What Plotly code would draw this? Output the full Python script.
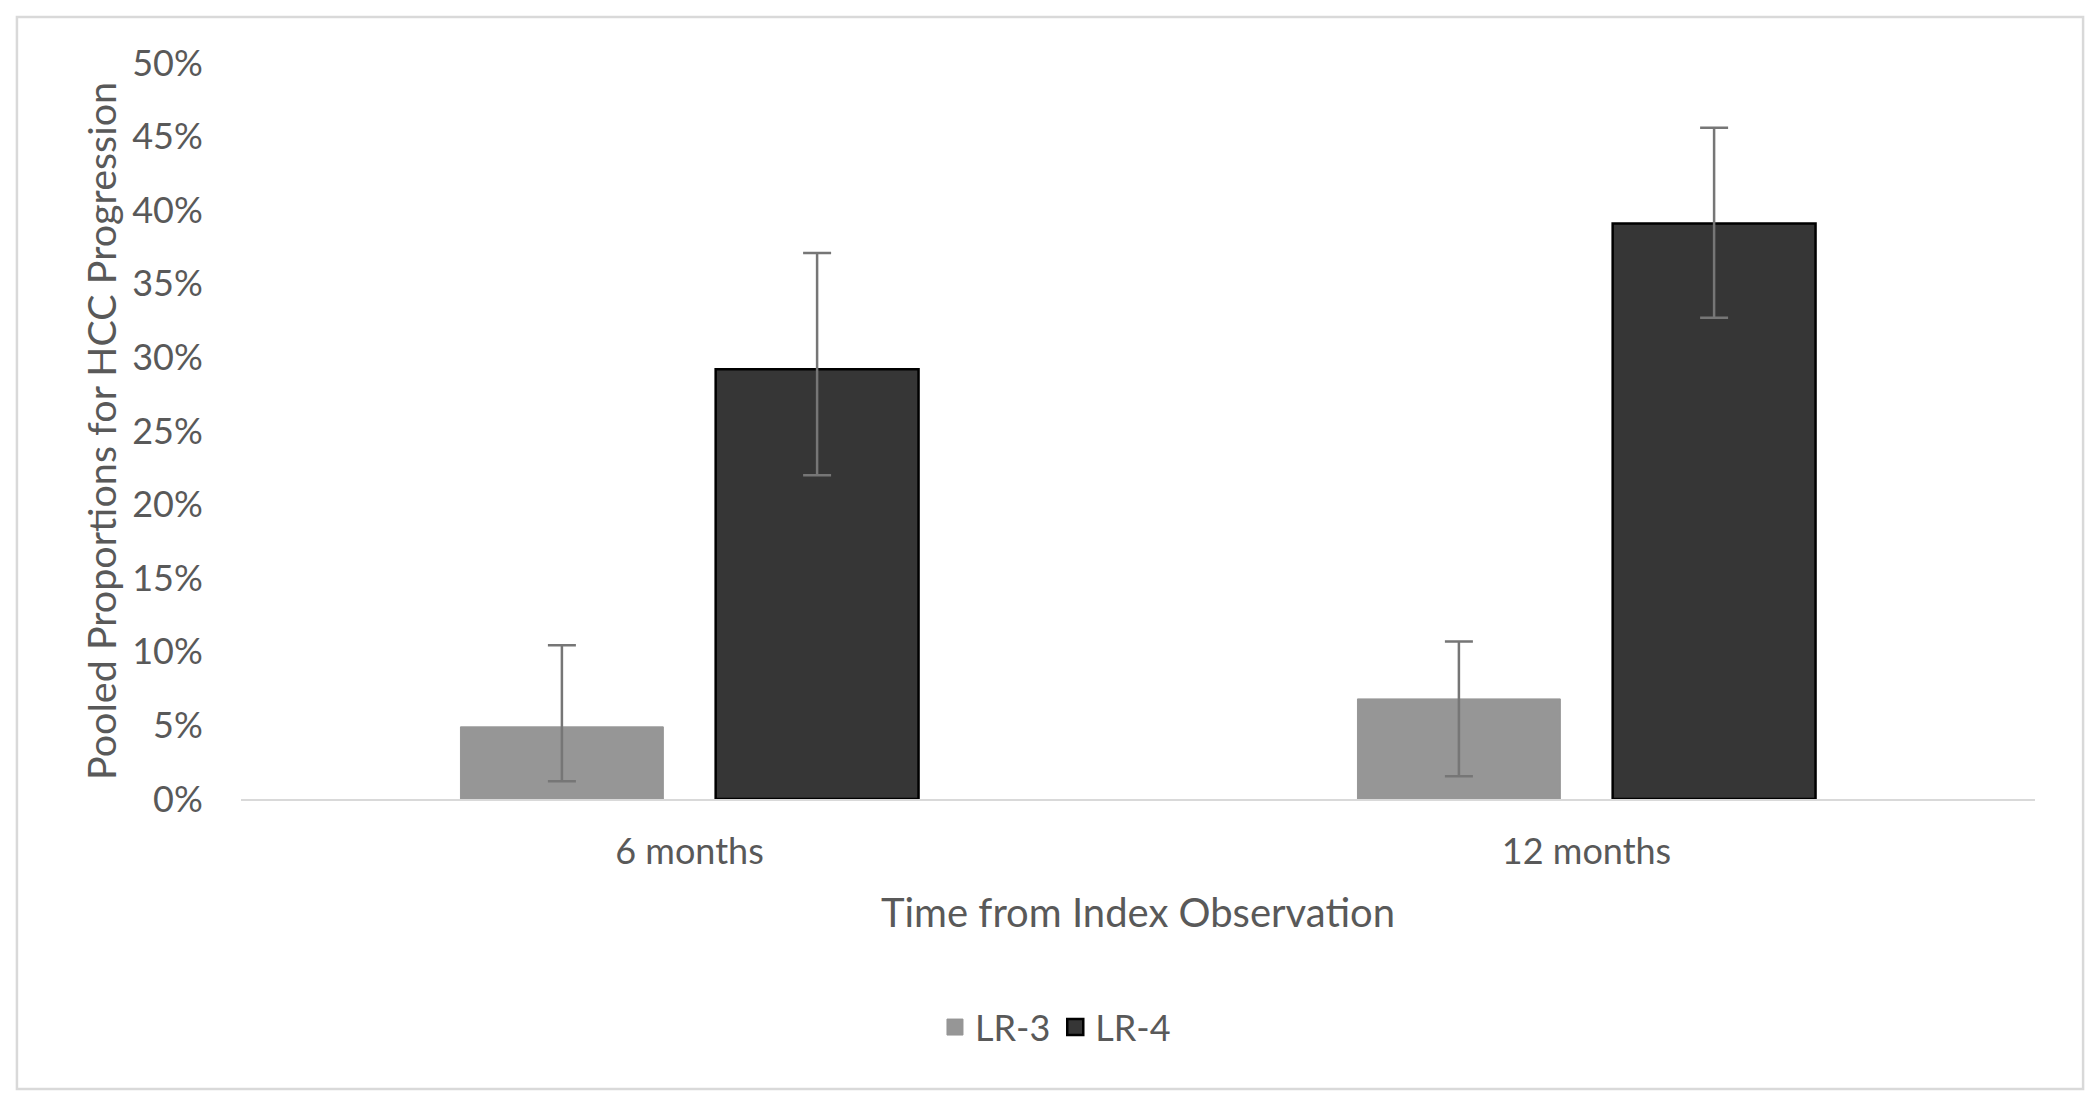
import plotly.graph_objects as go

categories = ["6 months", "12 months"]
series_names = ["LR-3", "LR-4"]
lr3_values = [0.049, 0.068]
lr3_upper = [0.1045, 0.107]
lr3_lower = [0.012, 0.0155]
lr4_values = [0.292, 0.391]
lr4_upper = [0.371, 0.456]
lr4_lower = [0.220, 0.327]
y_ticks = [0, 0.05, 0.10, 0.15, 0.20, 0.25, 0.30, 0.35, 0.40, 0.45, 0.50]

font_family = "Lato, 'Open Sans', sans-serif"
text_color = "#595959"
err_color = "#767676"
lr3_color = "#969696"
lr4_color = "#363636"


def err(vals, up, lo):
    return dict(
        type="data", symmetric=False,
        array=[u - v for u, v in zip(up, vals)],
        arrayminus=[v - l for v, l in zip(vals, lo)],
        color=err_color, thickness=2.5, width=14,
    )


fig = go.Figure()
fig.add_trace(go.Bar(
    x=categories, y=lr3_values, name=series_names[0], showlegend=False,
    marker=dict(color=lr3_color, line=dict(color=lr3_color, width=1)),
    error_y=err(lr3_values, lr3_upper, lr3_lower),
))
fig.add_trace(go.Bar(
    x=categories, y=lr4_values, name=series_names[1], showlegend=False,
    marker=dict(color=lr4_color, line=dict(color="#000000", width=2.5)),
    error_y=err(lr4_values, lr4_upper, lr4_lower),
))
# legend entries with bigger square swatches
fig.add_trace(go.Scatter(
    x=[None], y=[None], mode="markers", name=series_names[0],
    marker=dict(symbol="square", size=22, color=lr3_color, line=dict(color=lr3_color, width=1)),
))
fig.add_trace(go.Scatter(
    x=[None], y=[None], mode="markers", name=series_names[1],
    marker=dict(symbol="square", size=22, color=lr4_color, line=dict(color="#000000", width=2.5)),
))

fig.update_layout(
    width=2100, height=1108,
    margin=dict(l=233, r=73, t=55, b=317),
    paper_bgcolor="white", plot_bgcolor="white",
    font=dict(family=font_family, size=36, color=text_color),
    barmode="group", bargap=0.431, bargroupgap=0.205,
    showlegend=True,
    legend=dict(orientation="h", x=0.454, xanchor="center", y=-0.31, yanchor="middle",
                font=dict(size=36, color=text_color), itemwidth=30, traceorder="normal"),
    xaxis=dict(showline=True, linecolor="#d9d9d9", linewidth=2, showgrid=False,
               ticks="outside", ticklen=20, tickcolor="rgba(0,0,0,0)",
               tickfont=dict(size=36, color=text_color)),
    yaxis=dict(range=[0, 0.5], tickvals=y_ticks, tickformat=".0%", showgrid=False,
               zeroline=False, showline=False, ticks="outside", ticklen=30,
               tickcolor="rgba(0,0,0,0)", tickfont=dict(size=36, color=text_color)),
    shapes=[dict(type="rect", xref="paper", yref="paper",
                 x0=-0.1249, x1=1.0268, y0=-0.394, y1=1.0625,
                 line=dict(color="#d9d9d9", width=2.5), fillcolor="rgba(0,0,0,0)", layer="below")],
    annotations=[
        dict(text="Pooled Proportions for HCC Progression", xref="paper", yref="paper",
             x=-0.0786, y=0.5, textangle=-90, showarrow=False, xanchor="center", yanchor="middle",
             font=dict(size=39.5, color=text_color)),
        dict(text="Time from Index Observation", xref="paper", yref="paper",
             x=0.5, y=-0.1535, showarrow=False, xanchor="center", yanchor="middle",
             font=dict(size=40, color=text_color)),
    ],
)

fig.write_html("out.html")
